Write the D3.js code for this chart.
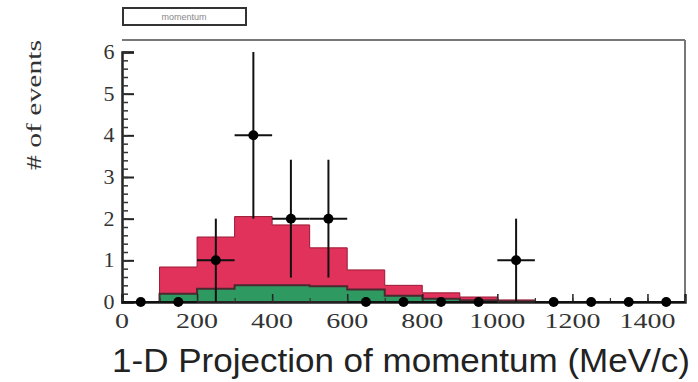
<!DOCTYPE html>
<html><head><meta charset="utf-8">
<script src="https://cdn.jsdelivr.net/npm/d3@7/dist/d3.min.js"></script>
<style>body{margin:0;background:#fff;}svg{display:block;}</style>
</head><body>
<svg id="c" width="698" height="382"></svg>
<script>
// bin edges (MeV/c) and histogram contents
const binEdges = [100,200,300,400,500,600,700,800,900,1000,1100];
const totalMC  = [0.84,1.56,2.05,1.85,1.30,0.77,0.40,0.22,0.12,0.05];
const greenMC  = [0.20,0.32,0.40,0.40,0.38,0.30,0.15,0.08,0.04,0.02];
// data points: bin centres and counts
const dataX = [50,150,250,350,450,550,650,750,850,950,1050,1150,1250,1350,1450];
const dataN = [0,0,1,4,2,2,0,0,0,0,1,0,0,0,0];
const xTicks = [0,200,400,600,800,1000,1200,1400];
const yTicks = [0,1,2,3,4,5,6];

const svg = d3.select("#c");
const L=122, R=685, T=40, B=302;
const x = d3.scaleLinear().domain([0,1500]).range([L,R]);
const y = d3.scaleLinear().domain([0,6]).range([B,52]);

function stepPath(vals){
  const pts=[[x(binEdges[0]),y(0)]];
  vals.forEach((v,i)=>{pts.push([x(binEdges[i]),y(v)]);pts.push([x(binEdges[i+1]),y(v)]);});
  pts.push([x(binEdges[vals.length]),y(0)]);
  return d3.line()(pts)+"Z";
}
svg.append("path").attr("d",stepPath(totalMC)).attr("fill","#e0325a").attr("stroke","#9a1a35").attr("stroke-width",1);
svg.append("path").attr("d",stepPath(greenMC)).attr("fill","#2e9a62").attr("stroke","#4a2a30").attr("stroke-width",2);

// frame
svg.append("line").attr("x1",L).attr("x2",R).attr("y1",T).attr("y2",T).attr("stroke","#777").attr("stroke-width",2);
svg.append("line").attr("x1",R).attr("x2",R).attr("y1",T).attr("y2",B).attr("stroke","#777").attr("stroke-width",2);

// y axis
const yAx = svg.append("g").attr("transform",`translate(${L},0)`)
  .call(d3.axisRight(y).tickValues(yTicks).tickSize(12).tickFormat(""));
yAx.select(".domain").attr("stroke","#222").attr("stroke-width",2.5);
yAx.selectAll(".tick line").attr("stroke","#222").attr("stroke-width",2);
const yMinor = d3.range(0,6.01,0.2);
svg.append("g").attr("transform",`translate(${L},0)`)
  .call(d3.axisRight(y).tickValues(yMinor).tickSize(6).tickFormat(""))
  .call(g=>{g.select(".domain").remove();g.selectAll(".tick line").attr("stroke","#333").attr("stroke-width",1.5);});
svg.append("g").selectAll("text").data(yTicks).join("text")
  .attr("x",L-13).attr("y",d=>y(d)+7).attr("text-anchor","middle")
  .attr("font-family","Liberation Serif").attr("font-size",22).attr("fill","#333").text(d=>d);

// x axis
const xAx = svg.append("g").attr("transform",`translate(0,${B})`)
  .call(d3.axisTop(x).tickValues(xTicks).tickSize(8).tickFormat(""));
xAx.select(".domain").attr("stroke","#222").attr("stroke-width",2.5);
xAx.selectAll(".tick line").attr("stroke","#222").attr("stroke-width",1.5);
svg.append("g").attr("transform",`translate(0,${B})`)
  .call(d3.axisTop(x).tickValues(d3.range(0,1501,100)).tickSize(4).tickFormat(""))
  .call(g=>{g.select(".domain").remove();g.selectAll(".tick line").attr("stroke","#333").attr("stroke-width",1.2);});
svg.append("g").selectAll("text").data(xTicks).join("text")
  .attr("x",d=>x(d)).attr("y",B+26).attr("text-anchor","middle")
  .attr("font-family","Liberation Serif").attr("font-size",22).attr("fill","#333")
  .attr("textLength",d=>String(d).length*14).attr("lengthAdjust","spacingAndGlyphs").text(d=>d);

// data points with sqrt(N) errors
const pts = dataX.map((v,i)=>({x:v,n:dataN[i]}));
const g = svg.append("g");
g.selectAll(".h").data(pts).join("line").attr("x1",d=>x(d.x-50)).attr("x2",d=>x(d.x+50))
  .attr("y1",d=>y(d.n)).attr("y2",d=>y(d.n)).attr("stroke","#111").attr("stroke-width",2);
g.selectAll(".v").data(pts.filter(d=>d.n>0)).join("line").attr("x1",d=>x(d.x)).attr("x2",d=>x(d.x))
  .attr("y1",d=>y(d.n-Math.sqrt(d.n))).attr("y2",d=>y(d.n+Math.sqrt(d.n))).attr("stroke","#111").attr("stroke-width",2);
g.selectAll("circle").data(pts).join("circle").attr("cx",d=>x(d.x)).attr("cy",d=>y(d.n)).attr("r",5).attr("fill","#000");

// legend box
svg.append("rect").attr("x",123).attr("y",8).attr("width",123).attr("height",17).attr("fill","#fff").attr("stroke","#333").attr("stroke-width",2);
svg.append("text").attr("x",184).attr("y",20).attr("text-anchor","middle").attr("font-family","Liberation Sans").attr("font-size",9).attr("fill","#888").text("momentum");

// labels
svg.append("text").attr("transform","translate(41,105) rotate(-90)").attr("text-anchor","middle")
  .attr("font-family","Liberation Serif").attr("font-size",22).attr("fill","#333")
  .attr("textLength",130).attr("lengthAdjust","spacingAndGlyphs").text("# of events");
svg.append("text").attr("x",112).attr("y",372).attr("font-family","Liberation Sans").attr("font-size",34)
  .attr("fill","#222").attr("textLength",578).attr("lengthAdjust","spacingAndGlyphs").text("1-D Projection of momentum (MeV/c)");
</script>
</body></html>
